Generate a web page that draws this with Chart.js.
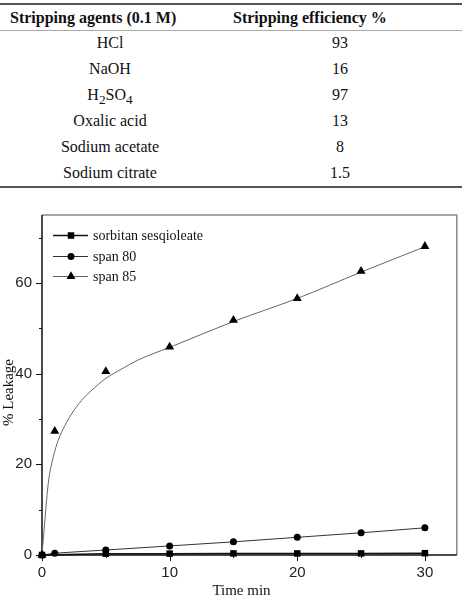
<!DOCTYPE html>
<html><head><meta charset="utf-8">
<script src="https://cdn.jsdelivr.net/npm/chart.js@4/dist/chart.umd.min.js"></script>
<style>
html,body{margin:0;padding:0;background:#fff;width:462px;height:596px;overflow:hidden;position:relative;}
.tt{position:absolute;font-family:"Liberation Serif","Times New Roman",serif;font-size:16px;color:#111;white-space:nowrap;}
.ln{position:absolute;left:0;width:462px;}
canvas{position:absolute;left:0;top:196px;}
</style>
</head><body>
<div id="table"></div>
<canvas id="c" width="462" height="402"></canvas>
<script>
// ---- table data ----
const tableHeaders = ["Stripping agents (0.1 M)", "Stripping efficiency %"];
const agents = ["HCl", "NaOH", "H<sub>2</sub>SO<sub>4</sub>", "Oxalic acid", "Sodium acetate", "Sodium citrate"];
const efficiency = ["93", "16", "97", "13", "8", "1.5"];

// ---- chart data ----
const seriesNames = ["sorbitan sesqioleate", "span 80", "span 85"];
const sorbitanX = [0, 5, 10, 15, 20, 25, 30];
const sorbitanY = [0, 0.3, 0.3, 0.35, 0.35, 0.35, 0.4];
const span80X = [0, 1, 5, 10, 15, 20, 25, 30];
const span80Y = [0, 0.4, 1.1, 2.0, 2.9, 3.9, 4.9, 6.0];
const span85X = [0, 1, 5, 10, 15, 20, 25, 30];
const span85Y = [0, 27.3, 40.5, 45.9, 51.8, 56.6, 62.6, 68.1];
// fitted curve for span 85
const span85FitX = [0, 0.23, 0.49, 0.88, 1.27, 1.8, 2.31, 3.1, 3.88, 4.92, 6.22, 7.52, 10, 15, 20, 25, 30];
const span85FitY = [0, 7.7, 15.8, 21.6, 25.3, 28.6, 31.1, 34.1, 36.3, 38.8, 41.0, 43.0, 45.8, 51.5, 56.6, 62.4, 68];
const xTicks = [0, 10, 20, 30];
const yTicks = [0, 20, 40, 60];
const xMinor = [5, 15, 25];
const yMinor = [10, 30, 50, 70];
const xTitle = "Time min";
const yTitle = "% Leakage";

// ---- build table ----
(function(){
  const t = document.getElementById('table');
  let h = '';
  h += '<div class="ln" style="top:3px;height:2px;background:#555"></div>';
  h += '<div class="tt" style="left:10px;top:5px;height:25px;line-height:25px;font-weight:bold">'+tableHeaders[0]+'</div>';
  h += '<div class="tt" style="left:233px;top:5px;height:25px;line-height:25px;font-weight:bold">'+tableHeaders[1]+'</div>';
  h += '<div class="ln" style="top:30px;height:1px;background:#aaa"></div>';
  agents.forEach((a,i)=>{
    const top = 30 + i*26;
    h += '<div class="tt" style="left:0;width:220px;text-align:center;top:'+top+'px;height:26px;line-height:26px">'+a+'</div>';
    h += '<div class="tt" style="left:220px;width:240px;text-align:center;top:'+top+'px;height:26px;line-height:26px">'+efficiency[i]+'</div>';
  });
  h += '<div class="ln" style="top:186px;height:2px;background:#555"></div>';
  t.innerHTML = h;
})();

function pts(xs, ys){ return xs.map((x,i)=>({x:x, y:ys[i]})); }

function marker(ctx, style, x, y, r){
  ctx.beginPath();
  if (style==='rect'){ const s=r*Math.SQRT1_2; ctx.rect(x-s,y-s,2*s,2*s); }
  else if (style==='circle'){ ctx.arc(x,y,r,0,Math.PI*2); }
  else if (style==='triangle'){
    let rad=0; ctx.moveTo(x+Math.sin(rad)*r, y-Math.cos(rad)*r);
    rad+=2*Math.PI/3; ctx.lineTo(x+Math.sin(rad)*r, y-Math.cos(rad)*r);
    rad+=2*Math.PI/3; ctx.lineTo(x+Math.sin(rad)*r, y-Math.cos(rad)*r);
    ctx.closePath();
  }
  ctx.fill();
}

const framePlugin = {
  id: 'frame',
  beforeDatasetsDraw(chart){
    const {ctx, chartArea:a, scales:{x, y}} = chart;
    ctx.save();
    ctx.strokeStyle = '#888'; ctx.lineWidth = 1.5;
    ctx.beginPath(); ctx.moveTo(a.left, a.top); ctx.lineTo(a.right, a.top); ctx.lineTo(a.right, a.bottom); ctx.stroke();
    ctx.strokeStyle = '#111'; ctx.lineWidth = 1.5;
    ctx.beginPath(); ctx.moveTo(a.left, a.top); ctx.lineTo(a.left, a.bottom); ctx.lineTo(a.right, a.bottom); ctx.stroke();
    ctx.lineWidth = 1;
    ctx.beginPath();
    xTicks.forEach(v=>{ const p=Math.round(x.getPixelForValue(v))+0.5; ctx.moveTo(p,a.bottom); ctx.lineTo(p,a.bottom+6); });
    xMinor.forEach(v=>{ const p=Math.round(x.getPixelForValue(v))+0.5; ctx.moveTo(p,a.bottom); ctx.lineTo(p,a.bottom+3); });
    yTicks.forEach(v=>{ const p=Math.round(y.getPixelForValue(v))+0.5; ctx.moveTo(a.left,p); ctx.lineTo(a.left-6,p); });
    yMinor.forEach(v=>{ const p=Math.round(y.getPixelForValue(v))+0.5; ctx.moveTo(a.left,p); ctx.lineTo(a.left-3,p); });
    ctx.stroke();
    ctx.restore();
  },
  afterDraw(chart){
    const {ctx} = chart;
    ctx.save();
    // legend
    const rows = [39, 60, 80];
    const ds = chart.data.datasets;
    const legendItems = [
      {ds: ds[0], lineColor: ds[0].borderColor, lw: 1.5},
      {ds: ds[1], lineColor: ds[1].borderColor, lw: 1},
      {ds: ds[2], lineColor: ds[3].borderColor, lw: 1}
    ];
    ctx.font = '14px "Liberation Serif", "Times New Roman", serif';
    ctx.textBaseline = 'middle'; ctx.textAlign = 'left';
    legendItems.forEach((it,i)=>{
      const yy = rows[i];
      ctx.strokeStyle = it.lineColor; ctx.lineWidth = it.lw;
      ctx.beginPath(); ctx.moveTo(53, yy+0.5); ctx.lineTo(88, yy+0.5); ctx.stroke();
      ctx.fillStyle = '#000';
      marker(ctx, it.ds.pointStyle, 71, yy+0.5, it.ds.pointRadius);
      ctx.fillStyle = '#111';
      ctx.fillText(it.ds.label, 93, yy+1);
    });
    // axis titles
    ctx.font = '15px "Liberation Serif", "Times New Roman", serif';
    ctx.fillStyle = '#111';
    ctx.textAlign = 'center'; ctx.textBaseline = 'alphabetic';
    ctx.fillText(xTitle, 241.5, 398.5);
    ctx.translate(12.5, 196.5); ctx.rotate(-Math.PI/2);
    ctx.fillText(yTitle, 0, 0);
    ctx.restore();
  }
};

new Chart(document.getElementById('c'), {
  type: 'line',
  data: {
    datasets: [
      {label: seriesNames[0], data: pts(sorbitanX, sorbitanY), borderColor: '#111', borderWidth: 1.5,
       pointStyle: 'rect', pointRadius: 4.6, pointBackgroundColor: '#000', pointBorderWidth: 0, tension: 0},
      {label: seriesNames[1], data: pts(span80X, span80Y), borderColor: '#333', borderWidth: 1,
       pointStyle: 'circle', pointRadius: 3.5, pointBackgroundColor: '#000', pointBorderWidth: 0, tension: 0},
      {label: seriesNames[2], data: pts(span85X, span85Y), showLine: false, borderColor: '#000',
       pointStyle: 'triangle', pointRadius: 5.2, pointBackgroundColor: '#000', pointBorderWidth: 0},
      {label: 'span 85 fit', data: pts(span85FitX, span85FitY), borderColor: '#666', borderWidth: 1,
       pointRadius: 0, cubicInterpolationMode: 'monotone'}
    ]
  },
  options: {
    responsive: false, animation: false, devicePixelRatio: 1,
    clip: false,
    layout: {padding: {left: 0, top: 18, right: 4, bottom: 0}},
    plugins: {legend: {display: false}, tooltip: {enabled: false}},
    scales: {
      x: {type: 'linear', min: 0, max: 32.5,
          grid: {display: false, drawTicks: false}, border: {display: false},
          afterBuildTicks: s => { s.ticks = xTicks.map(v=>({value: v})); },
          afterFit: s => { s.height = 43; },
          ticks: {padding: 9, color: '#222', font: {family: '"Liberation Sans", Arial, sans-serif', size: 15}, maxRotation: 0}},
      y: {type: 'linear', min: 0, max: 75,
          grid: {display: false, drawTicks: false}, border: {display: false},
          afterBuildTicks: s => { s.ticks = yTicks.map(v=>({value: v})); },
          afterFit: s => { s.width = 42; },
          ticks: {padding: 10, color: '#222', font: {family: '"Liberation Sans", Arial, sans-serif', size: 15}}}
    }
  },
  plugins: [framePlugin]
});
</script>
</body></html>
